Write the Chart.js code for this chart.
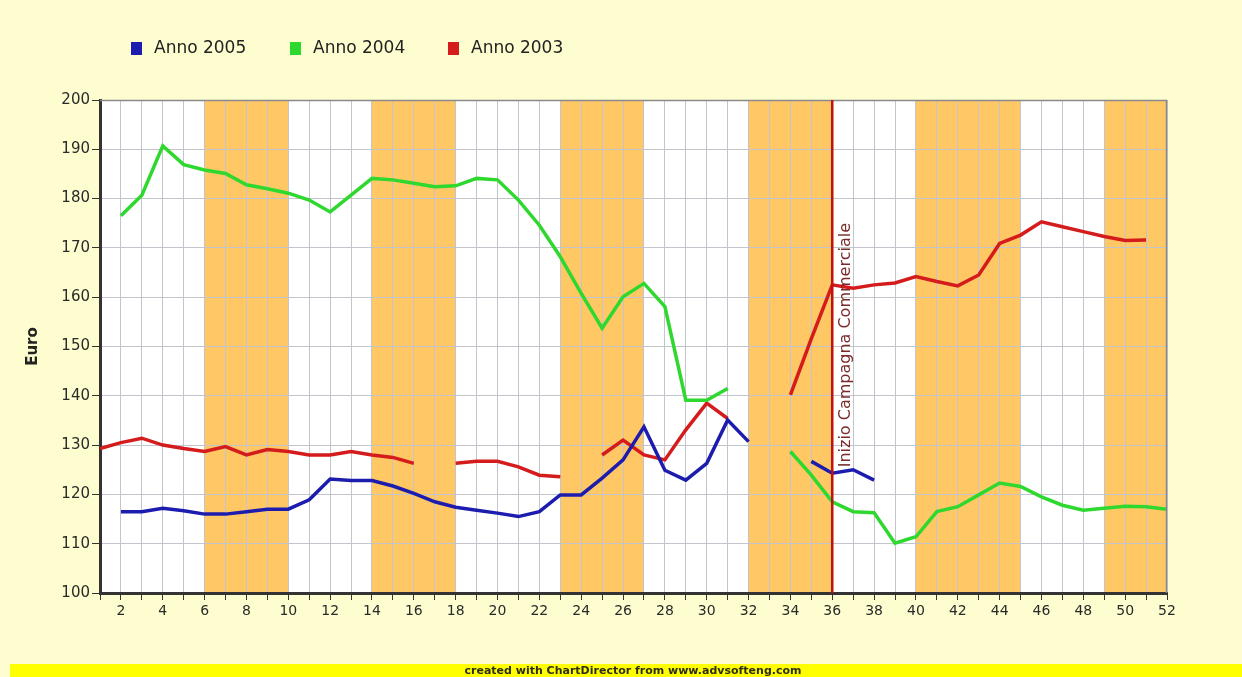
<!DOCTYPE html>
<html>
<head>
<meta charset="utf-8">
<script src="https://cdn.jsdelivr.net/npm/chart.js@4.4.1/dist/chart.umd.min.js"></script>
<style>
  html, body { margin: 0; padding: 0; background: #fdfdd0; }
  #wrap { width: 1242px; height: 677px; position: relative; }
</style>
</head>
<body>
<div id="wrap"><canvas id="chart" width="1242" height="677"></canvas></div>
<script>
// settimane dell'anno
const weeks = [1, 2, 3, 4, 5, 6, 7, 8, 9, 10, 11, 12, 13, 14, 15, 16, 17, 18, 19, 20,
  21, 22, 23, 24, 25, 26, 27, 28, 29, 30, 31, 32, 33, 34, 35, 36, 37, 38, 39, 40,
  41, 42, 43, 44, 45, 46, 47, 48, 49, 50, 51, 52];

// prezzi settimanali (null = settimana senza dato)
const anno2005 = [null, 116.5, 116.5, 117.2, 116.7, 116.0, 116.0, 116.5, 117.0, 117.0,
  118.9, 123.1, 122.8, 122.8, 121.7, 120.2, 118.5, 117.4, 116.8, 116.2,
  115.5, 116.5, 119.9, 119.9, 123.3, 127.0, 133.7, 124.9, 122.9, 126.3,
  135.1, 130.7, null, null, 126.7, 124.3, 125.0, 122.9, null, null,
  null, null, null, null, null, null, null, null, null, null, null, null];

const anno2004 = [null, 176.5, 180.7, 190.7, 186.9, 185.8, 185.1, 182.8, 182.0, 181.1,
  179.7, 177.3, 180.7, 184.1, 183.8, 183.1, 182.4, 182.6, 184.1, 183.8,
  179.7, 174.6, 168.2, 160.8, 153.7, 160.1, 162.8, 158.1, 139.1, 139.1,
  141.5, null, null, 128.7, 123.9, 118.5, 116.5, 116.3, 110.1, 111.4,
  116.5, 117.5, 119.9, 122.3, 121.6, 119.5, 117.8, 116.8, 117.2, 117.6, 117.5, 117.0];

const anno2003 = [129.3, 130.5, 131.4, 130.0, 129.3, 128.7, 129.7, 128.0, 129.1, 128.7,
  128.0, 128.0, 128.7, 128.0, 127.5, 126.3, null, 126.3, 126.7, 126.7,
  125.6, 123.9, 123.6, null, 128.0, 131.0, 128.0, 127.0, 133.1, 138.5,
  135.4, null, null, 140.2, 151.6, 162.5, 161.8, 162.5, 162.9, 164.2,
  163.2, 162.3, 164.5, 170.9, 172.6, 175.3, 174.3, 173.3, 172.3, 171.5, 171.6, null];

// periodi evidenziati (settimana inizio, settimana fine)
const bandStart = [6, 14, 23, 32, 40, 49];
const bandEnd   = [10, 18, 27, 36, 45, 52];

const campaignWeek = 36;
const campaignLabel = 'Inizio Campagna Commerciale';

const yMin = 100, yMax = 200, yStep = 10;

const toPoints = (arr) => weeks.map((w, i) => ({ x: w, y: arr[i] }));

const FONT = 'DejaVu Sans';

// sfondo, area bianca e fasce arancioni sotto la griglia
const backgroundPlugin = {
  id: 'background',
  beforeDraw(chart) {
    const { ctx, chartArea: a, scales: { x } } = chart;
    ctx.save();
    ctx.fillStyle = '#fdfdd0';
    ctx.fillRect(0, 0, chart.width, chart.height);
    ctx.fillStyle = '#ffffff';
    ctx.fillRect(a.left, a.top, a.right - a.left, a.bottom - a.top);
    ctx.fillStyle = '#ffc864';
    bandStart.forEach((s, i) => {
      const x0 = x.getPixelForValue(s);
      const x1 = x.getPixelForValue(bandEnd[i]);
      ctx.fillRect(x0, a.top, x1 - x0, a.bottom - a.top);
    });
    // barra in fondo
    ctx.fillStyle = '#ffff00';
    ctx.fillRect(10, 664, chart.width - 10, chart.height - 664);
    ctx.fillStyle = '#2e2e18';
    ctx.font = 'bold 11px ' + FONT;
    ctx.textAlign = 'center';
    ctx.textBaseline = 'middle';
    ctx.fillText('created with ChartDirector from www.advsofteng.com', 633, 671);
    ctx.restore();
  },
  afterDatasetsDraw(chart) {
    const { ctx, chartArea: a, scales: { x, y } } = chart;
    ctx.save();
    // bordo superiore e destro
    ctx.strokeStyle = '#8a8a8a';
    ctx.lineWidth = 1.5;
    ctx.beginPath();
    ctx.moveTo(a.left, a.top + 0.5);
    ctx.lineTo(a.right - 0.5, a.top + 0.5);
    ctx.lineTo(a.right - 0.5, a.bottom);
    ctx.stroke();
    // linea inizio campagna
    const cx = x.getPixelForValue(campaignWeek);
    ctx.strokeStyle = '#c41010';
    ctx.lineWidth = 2.5;
    ctx.beginPath();
    ctx.moveTo(cx, a.top);
    ctx.lineTo(cx, a.bottom);
    ctx.stroke();
    ctx.translate(cx + 14, y.getPixelForValue(125.5));
    ctx.rotate(-Math.PI / 2);
    ctx.fillStyle = '#7a2a2a';
    ctx.font = '16px ' + FONT;
    ctx.textAlign = 'left';
    ctx.textBaseline = 'middle';
    ctx.fillText(campaignLabel, 0, 0);
    ctx.restore();
  },
  afterDraw(chart) {
    // legenda
    const { ctx } = chart;
    const startX = [131, 290, 448];
    ctx.save();
    ctx.font = '17px ' + FONT;
    ctx.textBaseline = 'middle';
    ctx.textAlign = 'left';
    chart.data.datasets.forEach((ds, i) => {
      ctx.fillStyle = ds.borderColor;
      ctx.fillRect(startX[i], 42, 11, 13);
      ctx.fillStyle = '#222';
      ctx.fillText(ds.label, startX[i] + 23, 49);
    });
    ctx.restore();
  }
};

const lineStyle = { borderWidth: 3.5, pointRadius: 0, tension: 0, spanGaps: false, fill: false };

new Chart(document.getElementById('chart'), {
  type: 'line',
  data: {
    datasets: [
      { label: 'Anno 2005', data: toPoints(anno2005), borderColor: '#1c1cae', ...lineStyle },
      { label: 'Anno 2004', data: toPoints(anno2004), borderColor: '#2fd82f', ...lineStyle },
      { label: 'Anno 2003', data: toPoints(anno2003), borderColor: '#d41c1c', ...lineStyle }
    ]
  },
  options: {
    responsive: false,
    animation: false,
    layout: { padding: { top: 100, right: 75, bottom: 0, left: 0 } },
    plugins: { legend: { display: false }, tooltip: { enabled: false } },
    scales: {
      x: {
        type: 'linear',
        min: 1,
        max: 52,
        afterFit: (s) => { s.height = 84; },
        ticks: {
          stepSize: 1,
          autoSkip: false,
          maxRotation: 0,
          padding: 3,
          color: '#2a2a2a',
          font: { family: FONT, size: 14 },
          callback: (v) => (v % 2 === 0 ? String(v) : '')
        },
        grid: { color: '#c4c4cc', lineWidth: 1, tickLength: 7, tickColor: '#333' },
        border: { color: '#333', width: 3 }
      },
      y: {
        min: yMin,
        max: yMax,
        afterFit: (s) => { s.width = 100; },
        ticks: {
          stepSize: yStep,
          padding: 2,
          color: '#2a2a2a',
          font: { family: FONT, size: 15 }
        },
        title: {
          display: true,
          text: 'Euro',
          color: '#222',
          font: { family: FONT, size: 15, weight: 'bold' },
          padding: { top: 24, bottom: 0 }
        },
        grid: { color: '#c4c4cc', lineWidth: 1, tickLength: 8, tickColor: '#333' },
        border: { color: '#333', width: 3 }
      }
    }
  },
  plugins: [backgroundPlugin]
});
</script>
</body>
</html>
